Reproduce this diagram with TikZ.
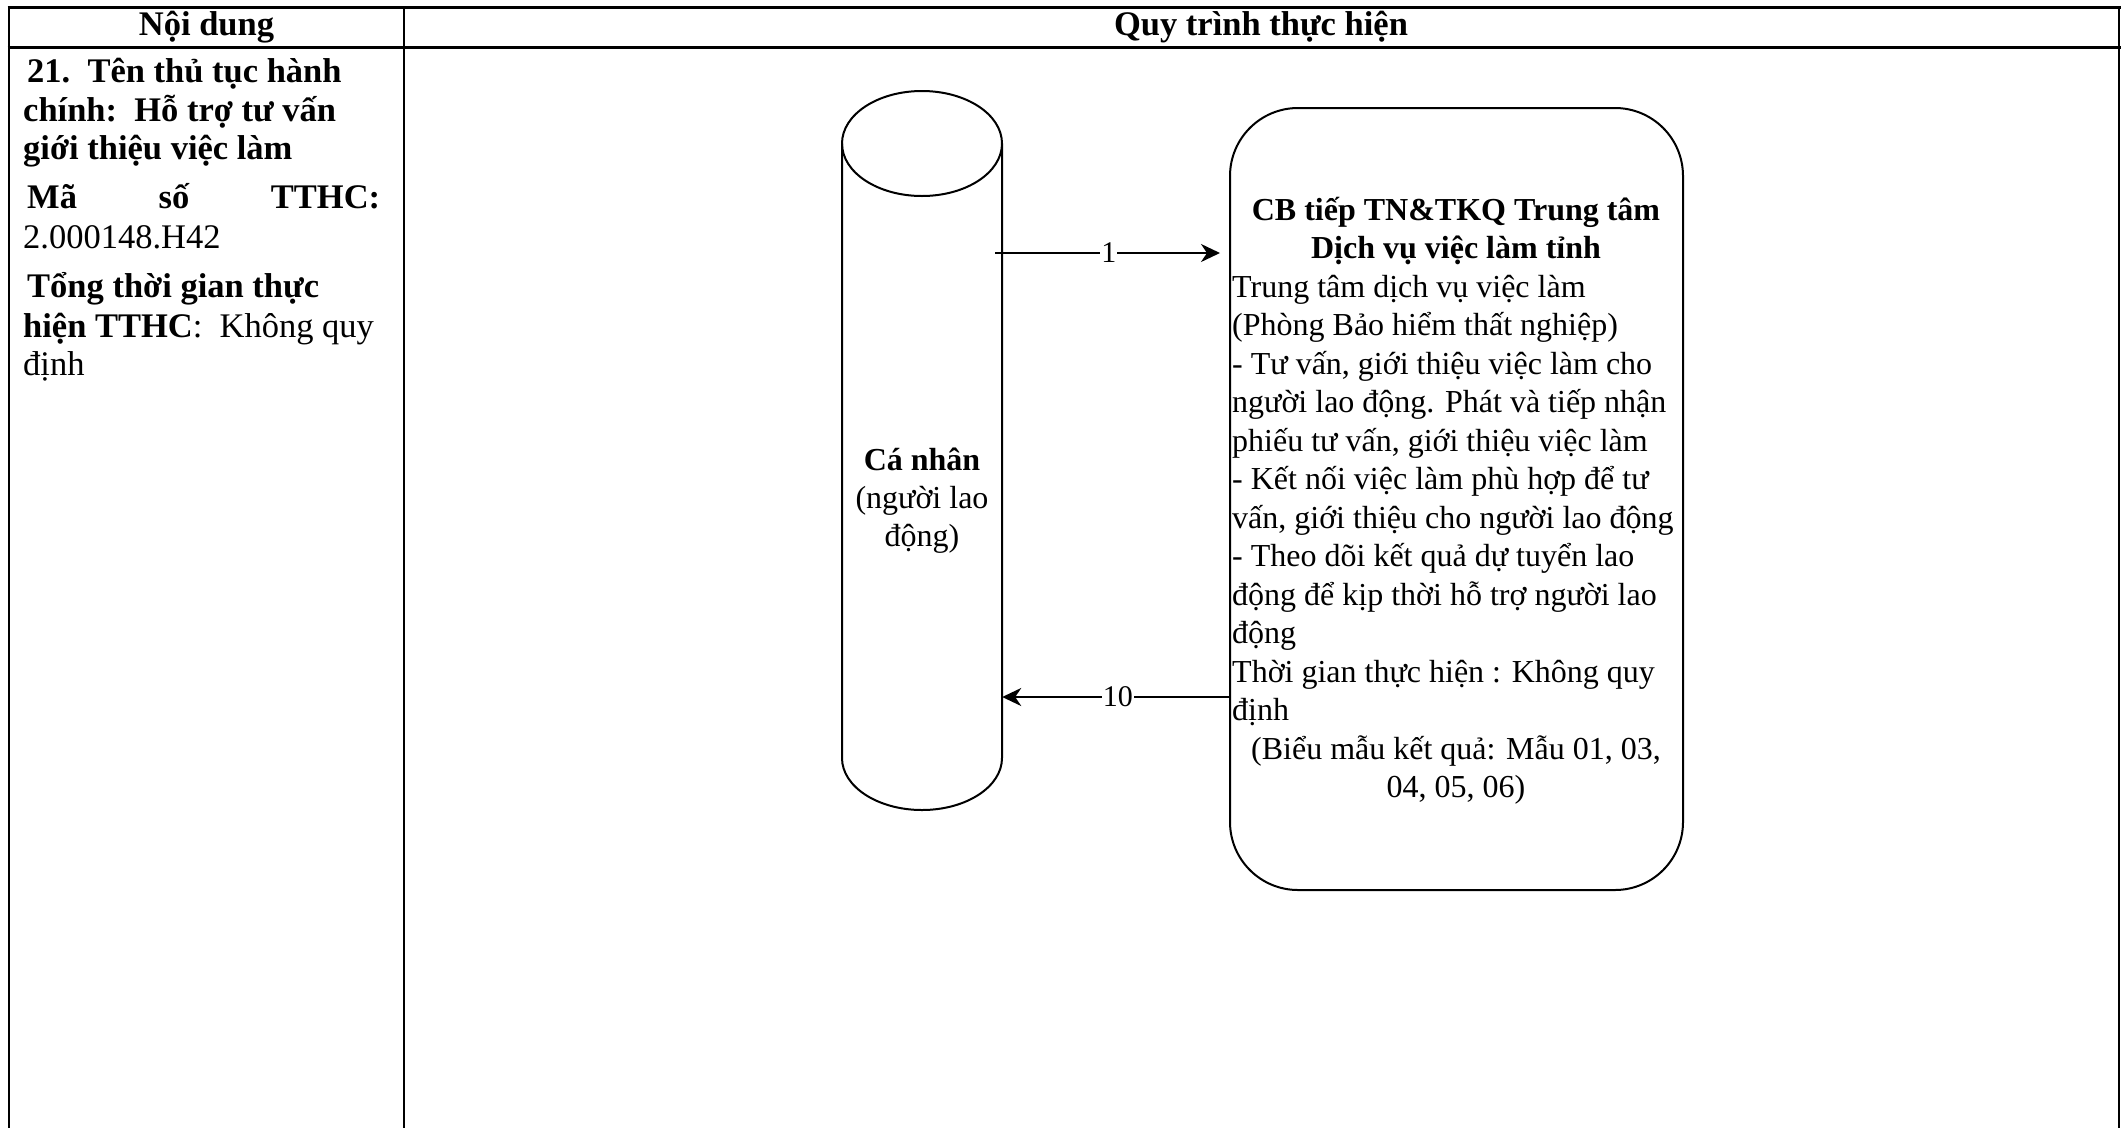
\documentclass[tikz,border=0pt]{standalone}
\usepackage{fontspec}
\setmainfont{Liberation Serif}
\usetikzlibrary{arrows.meta}
\begin{document}
\begin{tikzpicture}[x=1pt,y=-1pt,
  tbl/.style={line width=2pt},
  tblthick/.style={line width=3pt},
  hdr/.style={anchor=base, inner sep=0pt, font=\fontsize{34.5}{40}\selectfont\bfseries},
  lefttxt/.style={anchor=base west, inner sep=0pt, font=\fontsize{34.5}{40}\selectfont},
  boxtxt/.style={anchor=base west, inner sep=0pt, font=\fontsize{32}{38.5}\selectfont},
  boxtxtc/.style={anchor=base, inner sep=0pt, font=\fontsize{32}{38.5}\selectfont},
  shape line/.style={line width=2pt, draw=black},
  arr/.style={line width=2pt, -{Stealth[length=19pt,width=18pt,inset=6pt]}},
  lbl/.style={fill=white, inner sep=1pt, font=\fontsize{30}{36}\selectfont},
]
\useasboundingbox (0,0) rectangle (2123,1128);
\fill[white] (0,0) rectangle (2123,1128);

% table
\draw[tbl] (9,7) -- (9,1128);
\draw[tbl] (404,7) -- (404,1128);
\draw[tbl] (2119,7) -- (2119,1128);
\draw[tblthick] (7.5,7) -- (2120.5,7);
\draw[tblthick] (7.5,47) -- (2120.5,47);

% headers
\node[hdr] (h1) at (206.5,35) {Nội dung};
\node[hdr] (h2) at (1261,35) {Quy trình thực hiện};

% left column
\node[lefttxt] (l1) at (27,82) {\bfseries 21.\ \ Tên thủ tục hành};
\node[lefttxt] (l2) at (23,121) {\bfseries chính:\ \ Hỗ trợ tư vấn};
\node[lefttxt] (l3) at (23,159) {\bfseries giới thiệu việc làm};
\node[lefttxt] (l4) at (27,208) {\makebox[353pt][l]{\bfseries Mã\hfill số\hfill TTHC:}};
\node[lefttxt] (l5) at (23,248) {2.000148.H42};
\node[lefttxt] (l6) at (27,297) {\bfseries Tổng thời gian thực};
\node[lefttxt] (l7) at (23,337) {\textbf{hiện TTHC}:\ \ Không quy};
\node[lefttxt] (l8) at (23,375) {định};

% cylinder
\node[draw=none, minimum width=160, minimum height=719, inner sep=0pt] (cyl) at (922,450.5) {};
\draw[shape line] (842,143.5) -- (842,758) arc[start angle=180, end angle=0, x radius=80, y radius=52] -- (1002,143.5);
\draw[shape line] (922,143.5) ellipse[x radius=80, y radius=52.5];
\node[align=center, inner sep=0pt, font=\fontsize{32}{38}\selectfont] (cyltext) at (922,501)
  {\textbf{Cá nhân}\\(người lao\\động)};

% rounded box
\node[shape line, rounded corners=68pt, minimum width=453, minimum height=782, inner sep=0pt] (box) at (1456.5,499) {};
\node[boxtxtc] (b0) at (1456,220) {\bfseries CB tiếp TN\&TKQ Trung tâm};
\node[boxtxtc] (b1) at (1456,258.5) {\bfseries Dịch vụ việc làm tỉnh};
\node[boxtxt] (b2) at (1232,297) {Trung tâm dịch vụ việc làm};
\node[boxtxt] (b3) at (1232,335.5) {(Phòng Bảo hiểm thất nghiệp)};
\node[boxtxt] (b4) at (1232,374) {- Tư vấn, giới thiệu việc làm cho};
\node[boxtxt] (b5) at (1232,412.5) {người lao động. Phát và tiếp nhận};
\node[boxtxt] (b6) at (1232,451) {phiếu tư vấn, giới thiệu việc làm};
\node[boxtxt] (b7) at (1232,489.5) {- Kết nối việc làm phù hợp để tư};
\node[boxtxt] (b8) at (1232,528) {vấn, giới thiệu cho người lao động};
\node[boxtxt] (b9) at (1232,566.5) {- Theo dõi kết quả dự tuyển lao};
\node[boxtxt] (b10) at (1232,605) {động để kịp thời hỗ trợ người lao};
\node[boxtxt] (b11) at (1232,643.5) {động};
\node[boxtxt] (b12) at (1232,682) {Thời gian thực hiện : Không quy};
\node[boxtxt] (b13) at (1232,720.5) {định};
\node[boxtxtc] (b14) at (1456,759) {(Biểu mẫu kết quả: Mẫu 01, 03,};
\node[boxtxtc] (b15) at (1456,797.5) {04, 05, 06)};

% connectors
\coordinate (y1) at (0,253);
\coordinate (y10) at (0,697);
\draw[arr, shorten <=-7pt, shorten >=9pt] (cyl.east |- y1) -- (box.west |- y1) node[lbl, pos=0.47] (n1) {1};
\draw[arr] (box.west |- y10) -- (cyl.east |- y10) node[lbl, pos=0.49] (n10) {10};
\end{tikzpicture}
\end{document}
